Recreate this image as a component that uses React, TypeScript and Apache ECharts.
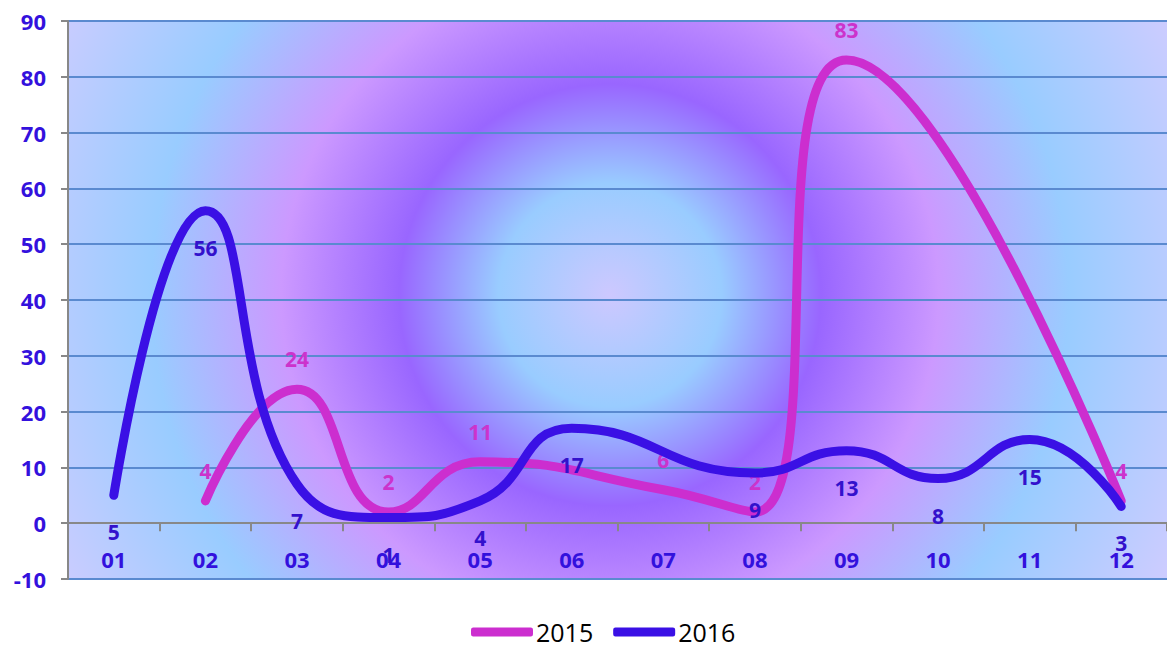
import React, { useEffect, useRef } from "react";
import * as echarts from "echarts";

const categories = ["01", "02", "03", "04", "05", "06", "07", "08", "09", "10", "11", "12"];
const series2015: (number | null)[] = [null, 4, 24, 2, 11, null, 6, 2, 83, null, null, 4];
const series2016: (number | null)[] = [5, 56, 7, 1, 4, 17, null, 9, 13, 8, 15, 3];
const yTicks = { min: -10, max: 90, interval: 10 };

const C2015 = "#cc2ecf";
const C2016 = "#3a10e5";
const AXIS_TEXT = "#3311dd";

export default function App() {
  const ref = useRef<HTMLDivElement>(null);
  useEffect(() => {
    if (!ref.current) return;
    const chart = echarts.init(ref.current, undefined, { renderer: "svg" });
    const font = "'Open Sans', 'Noto Sans', sans-serif";
    chart.setOption({
      animation: false,
      grid: {
        left: 68,
        right: 0,
        top: 21,
        bottom: 70,
        show: true,
        borderWidth: 0,
        backgroundColor: {
          type: "radial",
          x: 610,
          y: 295,
          r: 620,
          global: true,
          colorStops: [
            { offset: 0, color: "#cdc8ff" },
            { offset: 0.18, color: "#99ccff" },
            { offset: 0.34, color: "#9966ff" },
            { offset: 0.53, color: "#cc99ff" },
            { offset: 0.74, color: "#99ccff" },
            { offset: 1, color: "#ccccff" },
          ],
        },
      },
      legend: {
        top: 614,
        left: 466,
        padding: [5, 5, 0, 5],
        itemWidth: 62,
        itemHeight: 9,
        itemGap: 20,
        icon: "roundRect",
        textStyle: { fontSize: 25, lineHeight: 26, color: "#000", fontFamily: font, padding: [0, 0, 0, -2] },
        data: ["2015", "2016"],
      },
      xAxis: {
        type: "category",
        data: categories,
        boundaryGap: true,
        axisLine: { show: true, onZero: true, lineStyle: { color: "#888", width: 2 } },
        axisTick: { show: true, length: 8, lineStyle: { color: "#888", width: 2 } },
        axisLabel: {
          color: AXIS_TEXT,
          fontSize: 22,
          fontWeight: "bold",
          fontFamily: font,
          margin: -31,
        },
        splitLine: { show: false },
      },
      yAxis: {
        type: "value",
        min: yTicks.min,
        max: yTicks.max,
        interval: yTicks.interval,
        axisLine: { show: true, lineStyle: { color: "#888", width: 2 } },
        axisTick: { show: true, length: 7, lineStyle: { color: "#888", width: 2 } },
        axisLabel: {
          color: AXIS_TEXT,
          fontSize: 22,
          fontWeight: "bold",
          fontFamily: font,
          margin: 22,
        },
        splitLine: { show: true, lineStyle: { color: "#5a8ad0", width: 2 } },
      },
      series: [
        {
          name: "2015",
          type: "line",
          data: series2015,
          smooth: 0.5,
          connectNulls: true,
          symbol: "circle",
          symbolSize: 1,
          color: C2015,
          itemStyle: { color: C2015 },
          lineStyle: { color: C2015, width: 9, cap: "round", join: "round" },
          label: {
            show: true,
            position: "top",
            distance: 19,
            color: "#cc33cc",
            fontSize: 21,
            fontWeight: "bold",
            fontFamily: font,
          },
          z: 3,
        },
        {
          name: "2016",
          type: "line",
          data: series2016,
          smooth: 0.5,
          connectNulls: true,
          symbol: "circle",
          symbolSize: 1,
          color: C2016,
          itemStyle: { color: C2016 },
          lineStyle: { color: C2016, width: 9, cap: "round", join: "round" },
          label: {
            show: true,
            position: "bottom",
            distance: 26,
            color: "#3311cc",
            fontSize: 21,
            fontWeight: "bold",
            fontFamily: font,
          },
          z: 4,
        },
      ],
    });
    return () => chart.dispose();
  }, []);
  return <div ref={ref} style={{ width: 1167, height: 649, position: "absolute", left: 0, top: 0 }} />;
}
